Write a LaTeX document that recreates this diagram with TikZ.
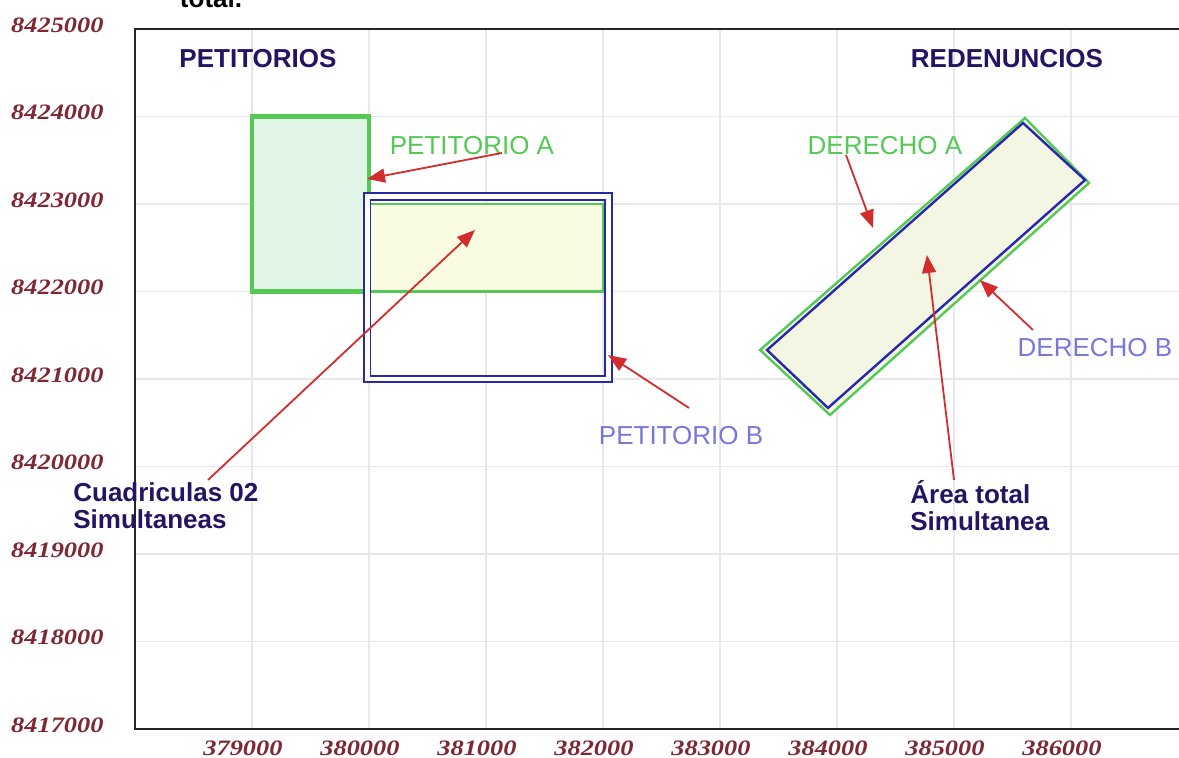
\documentclass[tikz,border=0pt]{standalone}
\usepackage{fontspec}
\setmainfont{Liberation Sans}
\newfontfamily\axisfont[FakeStretch=1.2]{Liberation Serif}
\usetikzlibrary{arrows.meta}

\definecolor{navytext}{RGB}{35,20,100}
\definecolor{axisred}{RGB}{125,40,50}
\definecolor{petgreen}{RGB}{85,200,85}
\definecolor{petblue}{RGB}{40,40,170}
\definecolor{labelblue}{RGB}{120,120,220}
\definecolor{arrowred}{RGB}{210,45,45}
\definecolor{mintfill}{RGB}{226,246,232}
\definecolor{yellowfill}{RGB}{250,252,226}
\definecolor{redfill}{RGB}{243,246,226}
\definecolor{gridgray}{RGB}{232,232,236}

\begin{document}
\begin{tikzpicture}[
    x=58.5pt, y=43.75pt,
    inner sep=0pt,
    gridline/.style={draw=gridgray, line width=0.8pt},
    frame/.style={draw=black!85, line width=1.4pt},
    petA/.style={draw=petgreen, fill=mintfill, line width=2.2pt},
    overlap/.style={draw=petgreen, fill=yellowfill, line width=1.4pt},
    petB/.style={draw=petblue, double=white, line width=0.9pt, double distance=2.4pt},
    derA/.style={draw=petgreen, fill=redfill, line width=1.2pt},
    derB/.style={draw=petblue, line width=1.2pt},
    pointer/.style={draw=arrowred, line width=0.9pt, -{Triangle[length=9pt,width=7pt]}},
    title/.style={text=navytext, font=\fontsize{13}{13.5}\selectfont\bfseries},
    note/.style={text=navytext, align=left, font=\fontsize{13}{13.5}\selectfont\bfseries},
    greenlabel/.style={text=petgreen, font=\fontsize{13}{13.5}\selectfont},
    bluelabel/.style={text=labelblue, font=\fontsize{13}{13.5}\selectfont},
    axislabel/.style={text=axisred, font=\axisfont\fontsize{11}{12}\selectfont\bfseries\itshape},
]

    \useasboundingbox (-1.1538,-0.3314) rectangle (8.9231,8.3314);
    \fill[white] (-1.1538,-0.3314) rectangle (8.9231,8.3314);
    \clip (-1.1538,-0.3314) rectangle (8.9231,8.3314);

    % grid
    \draw[gridline, step={(1,1)}] (0,0) grid (8.93,8);

    % petitorios
    \draw[petA] (1,5) rectangle (2,7);
    \draw[overlap] (2,5) rectangle (4,6);
    \draw[petB] (1.985,4.0) rectangle (4.047,6.086);

    % redenuncios
    \draw[derA] (5.342,4.331) -- (7.607,6.983) -- (8.154,6.240) -- (5.940,3.589) -- cycle;
    \draw[derB] (5.402,4.331) -- (7.590,6.926) -- (8.120,6.274) -- (5.923,3.669) -- cycle;

    % axes
    \draw[frame] (8.93,8) -- (0,8) -- (0,0) -- (8.93,0);

    \foreach \y/\lab in {0/8417000, 1/8418000, 2/8419000, 3/8420000, 4/8421000,
                         5/8422000, 6/8423000, 7/8424000, 8/8425000}
        \node[axislabel, anchor=east] at (-0.265,{\y+0.046}) {\lab};
    \foreach \x/\lab in {1/379000, 2/380000, 3/381000, 4/382000,
                         5/383000, 6/384000, 7/385000, 8/386000}
        \node[axislabel] at ({\x-0.077},-0.217) {\lab};

    % labels
    \node[title, text=black, anchor=base] (lblTotal) at (0.650,8.251) {total.};
    \node[title] (petitorios)  at (1.051,7.657) {PETITORIOS};
    \node[title] (redenuncios) at (7.453,7.657) {REDENUNCIOS};
    \node[greenlabel] (lblPetA) at (2.880,6.663) {PETITORIO A};
    \node[bluelabel]  (lblPetB) at (4.667,3.349) {PETITORIO B};
    \node[greenlabel] (lblDerA) at (6.410,6.663) {DERECHO A};
    \node[bluelabel]  (lblDerB) at (8.205,4.354) {DERECHO B};
    \node[note, anchor=west] (lblCuad) at (-0.530,2.554) {Cuadriculas 02\\Simultaneas};
    \node[note, anchor=west] (lblArea) at (6.624,2.549) {Área total\\Simultanea};

    \coordinate (petAtail) at (3.137,6.583);
    \coordinate (petAtip)  at (1.983,6.286);
    \coordinate (cuadtail) at (0.624,2.846);
    \coordinate (cuadtip)  at (2.906,5.703);
    \coordinate (petBtail) at (4.735,3.669);
    \coordinate (petBtip)  at (4.043,4.274);
    \coordinate (derAtail) at (6.077,6.560);
    \coordinate (derAtip)  at (6.308,5.726);
    \coordinate (areatail) at (7.000,2.846);
    \coordinate (areatip)  at (6.769,5.417);
    \coordinate (derBtail) at (7.675,4.560);
    \coordinate (derBtip)  at (7.222,5.131);

    \path
        (petAtail) edge [pointer] (petAtip)
        (cuadtail) edge [pointer] (cuadtip)
        (petBtail) edge [pointer] (petBtip)
        (derAtail) edge [pointer] (derAtip)
        (areatail) edge [pointer] (areatip)
        (derBtail) edge [pointer] (derBtip)
    ;
\end{tikzpicture}
\end{document}
